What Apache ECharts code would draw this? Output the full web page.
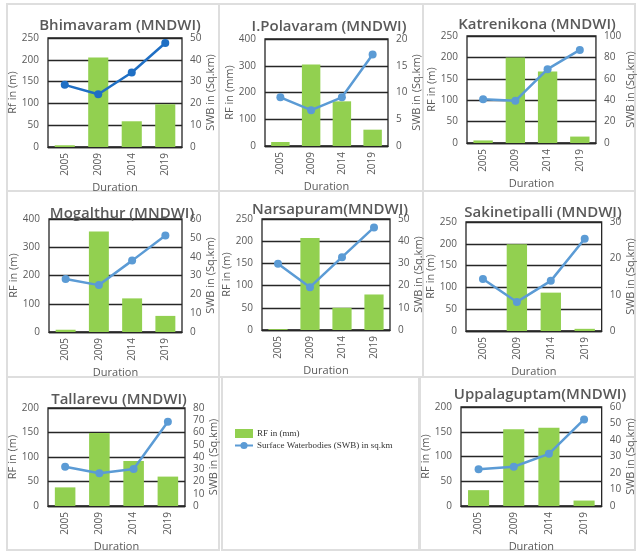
<!DOCTYPE html>
<html>
<head>
<meta charset="utf-8">
<script src="https://cdn.jsdelivr.net/npm/echarts@6/dist/echarts.min.js"></script>
<style>
html,body{margin:0;padding:0;background:#fff;}
#chart{width:637px;height:553px;}
</style>
</head>
<body>
<div id="chart"></div>
<script>
// categories
var years = ['2005', '2009', '2014', '2019'];

// panel titles / axis names
var titles = ['Bhimavaram (MNDWI)', 'I.Polavaram (MNDWI)', 'Katrenikona (MNDWI)', 'Mogalthur (MNDWI)',
    'Narsapuram(MNDWI)', 'Sakinetipalli (MNDWI)', 'Tallarevu (MNDWI)', 'Uppalaguptam(MNDWI)'];
var rfNames = ['Rf in (m)', 'RF in (mm)', 'RF in (m)', 'RF in (m)', 'RF in (m)', 'RF in (m)', 'RF in (m)', 'RF in (m)'];

// rainfall (bars)
var rfBhimavaram   = [4, 205, 59, 98];
var rfPolavaram    = [15, 305, 167, 61];
var rfKatrenikona  = [6, 200, 167, 15];
var rfMogalthur    = [8, 356, 119, 57];
var rfNarsapuram   = [2, 207, 50, 80];
var rfSakinetipalli = [0, 199, 88, 5];
var rfTallarevu    = [38, 149, 92, 60];
var rfUppalaguptam = [32, 155, 158, 11];

// surface waterbodies (lines)
var swbBhimavaram   = [28.5, 24.2, 34.2, 47.7];
var swbPolavaram    = [9.1, 6.7, 9.1, 17.1];
var swbKatrenikona  = [41, 39.4, 69, 87];
var swbMogalthur    = [28.1, 24.9, 37.9, 51.3];
var swbNarsapuram   = [29.8, 19.3, 32.8, 46.2];
var swbSakinetipalli = [14.3, 8.0, 13.8, 25.4];
var swbTallarevu    = [32, 26.7, 30.2, 68.7];
var swbUppalaguptam = [22.3, 23.8, 31.6, 52.5];

// axis ranges (tick labels)
var rfMax  = [250, 400, 250, 400, 250, 250, 200, 200];
var rfStep = [50, 100, 50, 100, 50, 50, 50, 50];
var swbMax  = [50, 20, 100, 60, 50, 30, 80, 60];
var swbStep = [10, 5, 20, 10, 10, 10, 10, 10];

var rfData = [rfBhimavaram, rfPolavaram, rfKatrenikona, rfMogalthur, rfNarsapuram, rfSakinetipalli, rfTallarevu, rfUppalaguptam];
var swbData = [swbBhimavaram, swbPolavaram, swbKatrenikona, swbMogalthur, swbNarsapuram, swbSakinetipalli, swbTallarevu, swbUppalaguptam];

// layout: plot box + title centre
var boxes = [
    {l: 48,  t: 38,  w: 134, h: 109, tx: 115, ty: 23},
    {l: 265, t: 39,  w: 123, h: 107, tx: 324, ty: 24},
    {l: 467, t: 36,  w: 131, h: 107, tx: 532, ty: 22},
    {l: 49,  t: 219, w: 133, h: 113, tx: 117, ty: 211},
    {l: 262, t: 219, w: 128, h: 111, tx: 325, ty: 207},
    {l: 466, t: 222, w: 144, h: 109, tx: 538, ty: 210},
    {l: 48,  t: 408, w: 137, h: 99,  tx: 114, ty: 397},
    {l: 461, t: 407, w: 147, h: 100, tx: 535, ty: 392}
];
var frames = [
    [7, 4, 212, 187], [219, 4, 204, 187], [423, 4, 212, 187],
    [7, 191, 212, 186], [219, 191, 204, 186], [423, 191, 212, 186],
    [7, 377, 212, 173], [222, 377, 197, 173], [420, 377, 215, 173]
];

var txt = '#595959';
var fontMain = 'Open Sans';
var chart = echarts.init(document.getElementById('chart'));

var grid = [], xAxis = [], yAxis = [], series = [], title = [];
boxes.forEach(function (b, i) {
    grid.push({left: b.l, top: b.t, width: b.w, height: b.h, show: true,
        borderColor: '#262626', borderWidth: 1.3, containLabel: false});
    title.push({text: titles[i], left: b.tx, top: b.ty - 10, textAlign: 'center',
        textStyle: {fontFamily: fontMain, fontSize: 15, fontWeight: 600, color: txt}});
    xAxis.push({type: 'category', gridIndex: i, data: years,
        axisTick: {show: false},
        axisLine: {show: true, lineStyle: {color: '#262626', width: 1.3}},
        axisLabel: {rotate: 90, fontSize: 10, color: txt, fontFamily: fontMain, margin: 6},
        name: 'Duration', nameLocation: 'middle', nameGap: 35,
        nameTextStyle: {fontSize: 11, color: txt, fontFamily: fontMain}});
    yAxis.push({type: 'value', gridIndex: i, min: 0, max: rfMax[i], interval: rfStep[i],
        axisTick: {show: false}, axisLine: {show: false},
        splitLine: {lineStyle: {color: '#262626', width: 1.3}},
        axisLabel: {fontSize: 10, color: txt, fontFamily: fontMain, margin: 9},
        name: rfNames[i], nameLocation: 'middle', nameGap: 25, nameRotate: 90,
        nameTextStyle: {fontSize: 11, color: txt, fontFamily: fontMain}});
    yAxis.push({type: 'value', gridIndex: i, position: 'right', min: 0, max: swbMax[i], interval: swbStep[i],
        axisTick: {show: false}, axisLine: {show: false}, splitLine: {show: false},
        axisLabel: {fontSize: 10, color: txt, fontFamily: fontMain, margin: 8},
        name: 'SWB in (Sq.km)', nameLocation: 'middle', nameGap: 22, nameRotate: 90,
        nameTextStyle: {fontSize: 11, color: txt, fontFamily: fontMain}});
    series.push({name: 'RF in (mm)', type: 'bar', xAxisIndex: i, yAxisIndex: 2 * i,
        data: rfData[i], barCategoryGap: '40%', itemStyle: {color: '#92d050'}});
    series.push({name: 'Surface Waterbodies (SWB) in sq.km', type: 'line', xAxisIndex: i, yAxisIndex: 2 * i + 1,
        data: swbData[i], symbol: 'circle', symbolSize: 8,
        lineStyle: {width: 2.5, color: i === 0 ? '#1f6fc4' : '#5b9bd5'},
        itemStyle: {color: i === 0 ? '#1f6fc4' : '#5b9bd5'}});
});

var graphic = frames.map(function (f) {
    return {type: 'rect', shape: {x: f[0], y: f[1], width: f[2], height: f[3]},
        style: {fill: null, stroke: '#dedede', lineWidth: 2}, z: -10};
});

chart.setOption({
    animation: false,
    title: title,
    grid: grid,
    xAxis: xAxis,
    yAxis: yAxis,
    series: series,
    graphic: graphic,
    legend: {
        orient: 'vertical', left: 229, top: 424, itemWidth: 18, itemHeight: 9, itemGap: 3,
        data: [
            {name: 'RF in (mm)', icon: 'rect', itemStyle: {color: '#92d050'}},
            {name: 'Surface Waterbodies (SWB) in sq.km', itemStyle: {color: '#5b9bd5'}, lineStyle: {color: '#5b9bd5'}}
        ],
        textStyle: {fontFamily: 'Liberation Serif', fontSize: 9, color: '#333', padding: [0, 0, 0, -1]},
        selectedMode: false
    }
});
window.addEventListener('resize', function () {
    chart.resize();
});
</script>
</body>
</html>
